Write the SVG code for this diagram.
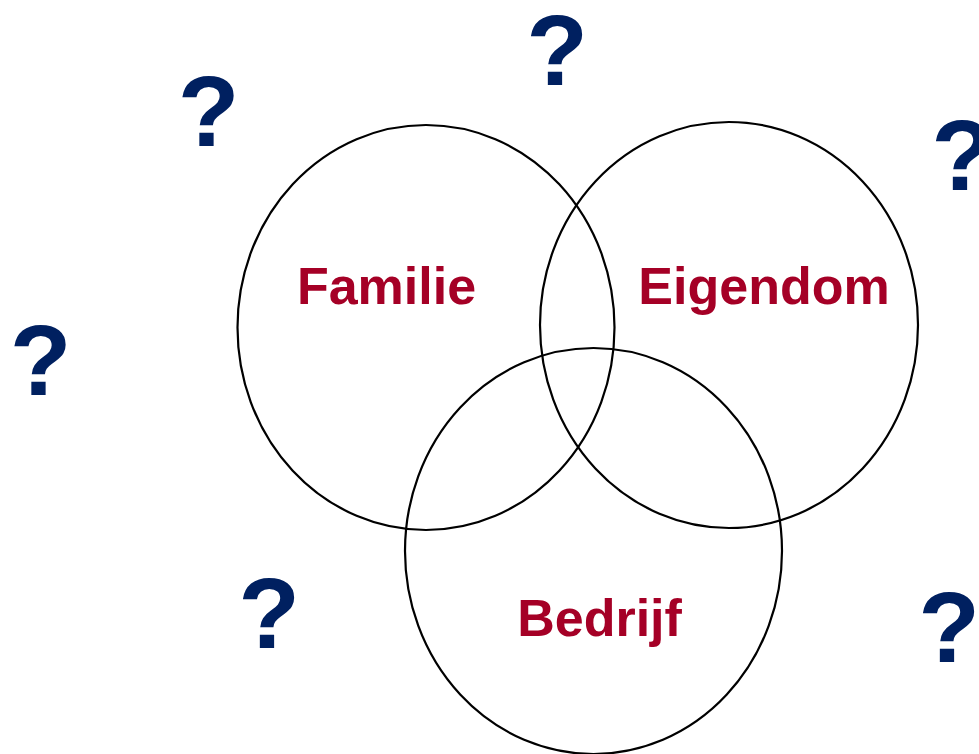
<svg xmlns="http://www.w3.org/2000/svg" width="979" height="754" viewBox="0 0 979 754">
<style>
.c{fill:none;stroke:#000;stroke-width:2.2}
.l{font-family:"Liberation Sans",Arial,sans-serif;font-weight:bold;font-size:52px;fill:#A50026;text-anchor:middle}
.q{font-family:"Liberation Sans",Arial,sans-serif;font-weight:bold;font-size:101px;fill:#002060;text-anchor:middle}
</style>
<rect width="979" height="754" fill="#fff"/>
<g id="familie"><ellipse class="c" cx="426" cy="327.5" rx="188.5" ry="202.5"/><text class="l" x="386.5" y="304">Familie</text></g>
<g id="eigendom"><ellipse class="c" cx="729" cy="325" rx="189" ry="203"/><text class="l" x="764" y="304">Eigendom</text></g>
<g id="bedrijf"><ellipse class="c" cx="593.5" cy="551" rx="188.5" ry="203"/><text class="l" x="599.5" y="636">Bedrijf</text></g>
<g id="questions">
<text class="q" x="208.5" y="146">?</text>
<text class="q" x="557" y="85">?</text>
<text class="q" x="962" y="190">?</text>
<text class="q" x="40.5" y="395">?</text>
<text class="q" x="269" y="648">?</text>
<text class="q" x="949" y="662">?</text>
</g>
</svg>
